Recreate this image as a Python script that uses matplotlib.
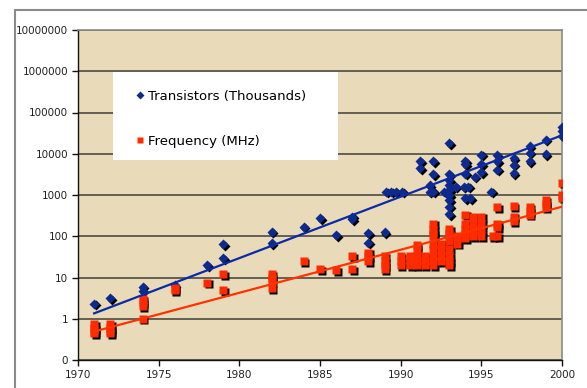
import matplotlib
matplotlib.use("Agg")
import matplotlib.pyplot as plt
import matplotlib.transforms as mtrans
from matplotlib.patches import Rectangle
from matplotlib.ticker import FixedLocator, FixedFormatter, NullLocator

# ---- data ----
trans_years = [1971, 1972, 1974, 1974, 1976, 1978, 1979, 1979, 1982, 1982,
               1984, 1985, 1986, 1987, 1987, 1988, 1988, 1989, 1989.1, 1989.4,
               1989.7, 1990.1, 1991.2, 1991.2, 1991.8, 1991.8, 1992, 1992, 1992,
               1992.7, 1993, 1993, 1993, 1993, 1993, 1993, 1993, 1993, 1993,
               1993.4, 1993.9, 1994.2, 1994, 1994, 1994, 1994, 1994.3, 1994.6,
               1995, 1995, 1995, 1995.6, 1996, 1996, 1996, 1997, 1997, 1997,
               1998, 1998, 1998, 1999, 1999, 2000, 2000, 2000]
trans_values = [2.3, 3.2, 6.0, 4.8, 6.5, 20, 29, 65, 130, 68,
                170, 270, 107, 300, 260, 118, 70, 125, 1200, 1200,
                1200, 1200, 6700, 4400, 1700, 1200, 6600, 3200, 1200,
                1200, 18000, 3200, 2300, 1700, 1300, 1000, 760, 520, 340,
                1600, 1600, 1600, 6600, 5600, 3300, 830, 830, 2800,
                9400, 5600, 3600, 1200, 9300, 6500, 4100, 7800, 5400, 3400,
                15000, 10700, 6500, 22000, 9800, 44000, 35000, 27000]

freq_years = [1971, 1971, 1971, 1971, 1972, 1972, 1972, 1972,
              1974, 1974, 1974, 1974, 1976, 1976, 1978, 1979, 1979,
              1982, 1982, 1982, 1982, 1984, 1985, 1986, 1987, 1987,
              1988, 1988, 1988, 1989, 1989, 1989, 1989,
              1990, 1990, 1990, 1990.6, 1990.6, 1990.6,
              1991, 1991, 1991, 1991, 1991, 1991.5, 1991.5, 1991.5,
              1992, 1992, 1992, 1992, 1992, 1992, 1992, 1992, 1992,
              1992.5, 1992.5, 1992.5, 1992.5,
              1993, 1993, 1993, 1993, 1993, 1993, 1993, 1993,
              1993.5, 1993.5, 1993.5,
              1994, 1994, 1994, 1994, 1994, 1994,
              1994.5, 1994.5, 1994.5, 1994.5, 1994.5,
              1995, 1995, 1995, 1995, 1995.7,
              1996, 1996, 1996, 1996, 1997, 1997, 1997,
              1998, 1998, 1998, 1999, 1999, 1999, 2000, 2000, 2000]
freq_values = [0.75, 0.6, 0.5, 0.45, 0.75, 0.6, 0.5, 0.45,
               3.0, 2.5, 2.0, 1.0, 5.0, 5.5, 7.5, 12, 5,
               12, 10, 8, 5.5, 25, 16, 15, 33, 16,
               40, 33, 25, 33, 25, 20, 16,
               33, 25, 20, 33, 25, 20,
               60, 50, 33, 25, 20, 33, 25, 20,
               200, 150, 120, 100, 66, 50, 33, 25, 20,
               66, 50, 33, 25,
               150, 120, 100, 75, 50, 33, 25, 20,
               100, 90, 66,
               330, 200, 150, 120, 100, 90,
               300, 200, 150, 120, 100,
               300, 200, 150, 100, 100,
               500, 200, 166, 100, 533, 300, 233,
               500, 400, 333, 750, 600, 500, 2000, 1000, 866]

trend_years = [1971, 2000]
trans_trend = [1.35, 28000]
freq_trend = [0.49, 520]

y_ticks = [0.1, 1, 10, 100, 1000, 10000, 100000, 1000000, 10000000]
y_tick_labels = ["0", "1", "10", "100", "1000", "10000", "100000", "1000000", "10000000"]
x_ticks = [1970, 1975, 1980, 1985, 1990, 1995, 2000]

label_trans = "Transistors (Thousands)"
label_freq = "Frequency (MHz)"

# ---- styling ----
W, H = 587, 388
fig = plt.figure(figsize=(W / 100, H / 100), dpi=100)
fig.patch.set_facecolor("white")

# outer chart frame
fig.patches.append(Rectangle((15 / W, -0.1), 1.2, (H - 10) / H + 0.1,
                             transform=fig.transFigure, fill=False,
                             edgecolor="#8a8a8a", linewidth=1.5))

ax = fig.add_axes([78 / W, 28 / H, (562 - 78) / W, 330 / H])
ax.set_facecolor("#E9DBB9")

ax.set_yscale("log")
ax.set_ylim(0.1, 1e7)
ax.set_xlim(1970, 2000)
ax.yaxis.set_major_locator(FixedLocator(y_ticks))
ax.yaxis.set_major_formatter(FixedFormatter(y_tick_labels))
ax.yaxis.set_minor_locator(NullLocator())
ax.set_xticks(x_ticks)
ax.set_xticklabels([str(v) for v in x_ticks])

ax.grid(axis="y", color="#4f4a42", linewidth=1.2)
ax.set_axisbelow(True)
for s in ("top", "right"):
    ax.spines[s].set_color("#8a8a8a")
    ax.spines[s].set_linewidth(1.2)
for s in ("left", "bottom"):
    ax.spines[s].set_color("#111111")
    ax.spines[s].set_linewidth(1.0)
ax.tick_params(axis="both", direction="out", length=4, width=1,
               color="#111111", labelsize=7.5, labelcolor="#222222", pad=3)

blue = "#0D2A8E"
red = "#FF2A00"
shadow = mtrans.offset_copy(ax.transData, fig=fig, x=1.6, y=-1.6, units="dots")

ax.plot(trans_years, trans_values, "D", ms=5.5, color="black", mec="none",
        transform=shadow, zorder=3)
ax.plot(freq_years, freq_values, "s", ms=5.2, color="black", mec="none",
        transform=shadow, zorder=3)
ax.plot(trans_years, trans_values, "D", ms=5.5, color=blue, mec="none",
        zorder=4, label=label_trans)
ax.plot(freq_years, freq_values, "s", ms=5.2, color=red, mec="none",
        zorder=4, label=label_freq)

ax.plot(trend_years, trans_trend, "-", color="#0B2AA8", lw=1.6, zorder=5)
ax.plot(trend_years, freq_trend, "-", color="#FF3300", lw=1.6, zorder=5)

# legend box
ax.add_patch(Rectangle((0.0723, 0.606), 0.465, 0.267, transform=ax.transAxes,
                       facecolor="white", edgecolor="none", zorder=6))
leg = ax.legend(loc="upper left", bbox_to_anchor=(0.12, 0.819),
                frameon=False, fontsize=9.5, handlelength=0.6,
                handletextpad=0.3, labelspacing=2.45, markerscale=0.8,
                borderpad=0, borderaxespad=0)
leg.set_zorder(7)

fig.savefig("out.png", dpi=100, facecolor="white")
